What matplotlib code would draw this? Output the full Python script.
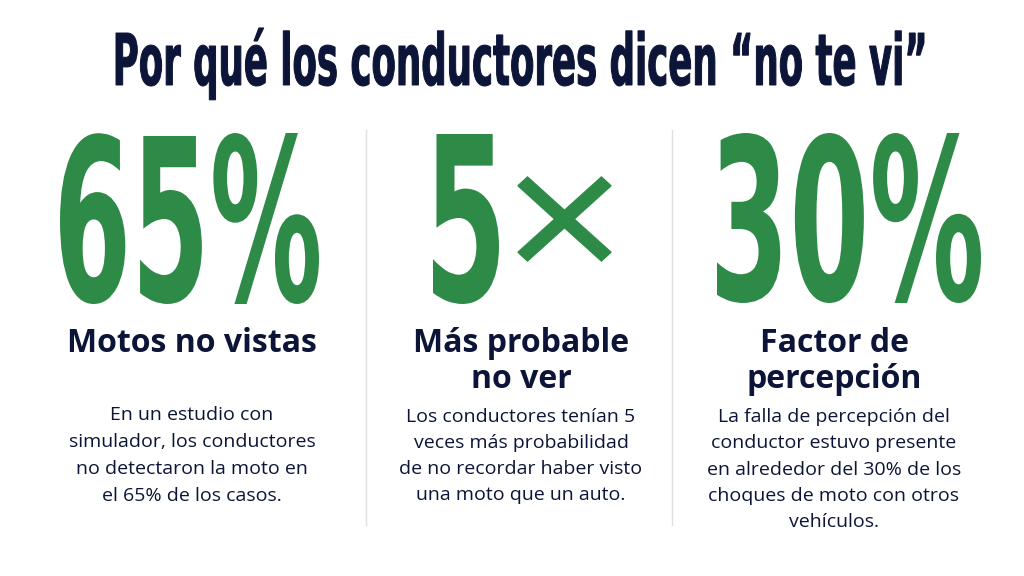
import matplotlib
matplotlib.use("Agg")
import matplotlib.pyplot as plt
import matplotlib.transforms as mtransforms
from matplotlib.textpath import TextPath
from matplotlib.patches import PathPatch
from matplotlib.font_manager import FontProperties, fontManager

# datos del gráfico
titulo = "Por qué los conductores dicen “no te vi”"
cifras = ["65%", "5", "×", "30%"]
encabezados = [["Motos no vistas"],
               ["Más probable", "no ver"],
               ["Factor de", "percepción"]]
textos = [["En un estudio con", "simulador, los conductores",
           "no detectaron la moto en", "el 65% de los casos."],
          ["Los conductores tenían 5", "veces más probabilidad",
           "de no recordar haber visto", "una moto que un auto."],
          ["La falla de percepción del", "conductor estuvo presente",
           "en alrededor del 30% de los", "choques de moto con otros",
           "vehículos."]]

VERDE = "#2e8b47"
AZUL = "#0c1538"

nombres = {f.name for f in fontManager.ttflist}
condensada = "Liberation Sans Narrow" if "Liberation Sans Narrow" in nombres else "DejaVu Sans"
fp_cond = FontProperties(family=condensada, weight="bold")
fuente = "Open Sans" if "Open Sans" in nombres else "DejaVu Sans"


def texto_en_caja(ax, s, left, right, top, bottom, color, fp, grosor=0):
    # encaja el trazado del texto dentro de una caja (pixeles)
    path = TextPath((0, 0), s, size=100, prop=fp)
    ext = path.get_extents()
    sx = (right - left) / ext.width
    sy = (bottom - top) / ext.height
    tr = (mtransforms.Affine2D().translate(-ext.x0, -ext.y0)
          .scale(sx, -sy).translate(left, bottom) + ax.transData)
    ax.add_patch(PathPatch(path, transform=tr, fc=color,
                           ec=color if grosor else "none", lw=grosor))


def titulo_condensado(ax, s, left, right, cap_top, baseline, color, fp):
    path = TextPath((0, 0), s, size=100, prop=fp)
    ext = path.get_extents()
    cap = TextPath((0, 0), "H", size=100, prop=fp).get_extents()
    sx = (right - left) / ext.width
    sy = (baseline - cap_top) / cap.y1
    tr = (mtransforms.Affine2D().translate(-ext.x0, 0)
          .scale(sx, -sy).translate(left, baseline) + ax.transData)
    ax.add_patch(PathPatch(path, transform=tr, fc=color, ec=color, lw=0.7))


fig = plt.figure(figsize=(10.24, 5.76), dpi=100)
ax = fig.add_axes([0, 0, 1, 1])
ax.set_xlim(0, 1024)
ax.set_ylim(576, 0)
ax.axis("off")

titulo_condensado(ax, titulo, 116, 924, 33, 85, AZUL, fp_cond)

# separadores
for x in [366, 672]:
    ax.plot([x, x], [130, 525], color="#e0e0e0", lw=1)

# cifras grandes
texto_en_caja(ax, cifras[0], 60, 319, 133, 304, VERDE, fp_cond)
texto_en_caja(ax, cifras[1], 433, 499, 134, 304, VERDE, fp_cond)
texto_en_caja(ax, cifras[2], 518, 611, 177, 261, VERDE,
              FontProperties(family="DejaVu Sans", weight="normal"), grosor=1)
texto_en_caja(ax, cifras[3], 717, 981, 133, 303, VERDE, fp_cond)

centros = [192, 521, 834]
y_enc = [344, 379]
y_txt = [[415, 442, 469, 496],
         [417, 443, 469, 495],
         [417, 443, 470, 496, 522]]

for i in range(3):
    for j, linea in enumerate(encabezados[i]):
        ax.text(centros[i], y_enc[j], linea, ha="center", va="center",
                fontsize=23, fontweight="bold", color=AZUL, family=fuente)
    for j, linea in enumerate(textos[i]):
        ax.text(centros[i], y_txt[i][j], linea, ha="center", va="center",
                fontsize=14, color=AZUL, family=fuente)

fig.savefig("out.png", dpi=100, facecolor="white")
